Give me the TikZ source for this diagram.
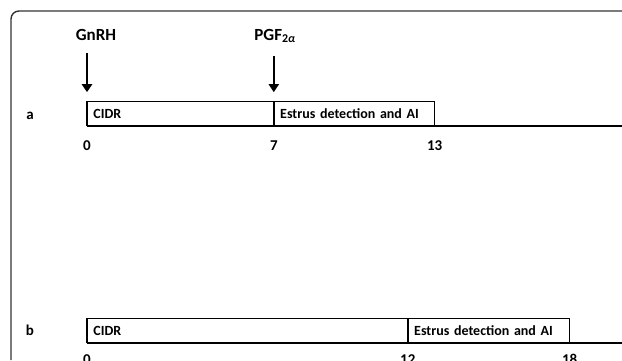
\documentclass[tikz,border=0pt]{standalone}
\usepackage{fontspec}
\setmainfont{Carlito}
\usetikzlibrary{positioning}
\usetikzlibrary{arrows.meta}

\begin{document}
\begin{tikzpicture}
          [x=1pt, y=1pt,
           every node/.style={font=\bfseries\fontsize{15}{17}\selectfont},
           phase/.style={draw, line width=0.8pt, minimum height=24pt, inner xsep=6pt,
                         inner ysep=0pt, align=left, font=\bfseries\fontsize{14}{16}\selectfont},
           day/.style={anchor=base, inner sep=0pt},
           drug/.style={anchor=base, inner sep=1pt, font=\bfseries\fontsize{17}{19}\selectfont},
           timeline/.style={line width=2.6pt},
           pulse/.style={line width=2.6pt, -{Triangle[width=10pt, length=8pt]},
                         shorten <= 12pt, shorten >= 9pt},
           frame/.style={line width=1.4pt, black!80, rounded corners=8pt}]
          \useasboundingbox (0,0) rectangle (622,-360);
          \draw[frame] (11,-360) |- (622,-11);

          % row a
          \node (cidrA) [phase, text width=174pt, anchor=south west] at (87,-126) {CIDR};
          \node (aiA) [phase, text width=148pt, right = 0pt of cidrA] {Estrus detection and AI};
          \coordinate (endA) at (622,-126);
          \draw[timeline] (cidrA.south west) -- (endA);
          \draw[line width=2pt] (cidrA.south west) -- (cidrA.north west);
          \node (rowa) [day] at (30,-119) {a};

          \node (dA0) [day] at ([yshift=-24pt]cidrA.south west) {0};
          \node (dA7) [day] at ([yshift=-24pt]cidrA.south east) {7};
          \node (dA13) [day] at ([yshift=-24pt]aiA.south east) {13};

          \node (gnrh) [drug] at (96,-40) {GnRH};
          \node (pgf) [drug] at (275,-40) {PGF\textsubscript{2\textit{α}}};
          \draw[pulse] (cidrA.north west |- gnrh.south) -- (cidrA.north west);
          \draw[pulse] (cidrA.north east |- pgf.south) -- (cidrA.north east);

          % row b
          \node (cidrB) [phase, text width=308pt, anchor=south west] at (87,-343) {CIDR};
          \node (aiB) [phase, text width=149pt, right = 0pt of cidrB] {Estrus detection and AI};
          \coordinate (endB) at (622,-343);
          \draw[timeline] (cidrB.south west) -- (endB);
          \draw[line width=2pt] (cidrB.south west) -- (cidrB.north west);
          \node (rowb) [day] at (30,-335) {b};

          \node (dB0) [day] at ([yshift=-21pt]cidrB.south west) {0};
          \node (dB12) [day] at ([yshift=-21pt]cidrB.south east) {12};
          \node (dB18) [day] at ([yshift=-21pt]aiB.south east) {18};

        \end{tikzpicture}
\end{document}
